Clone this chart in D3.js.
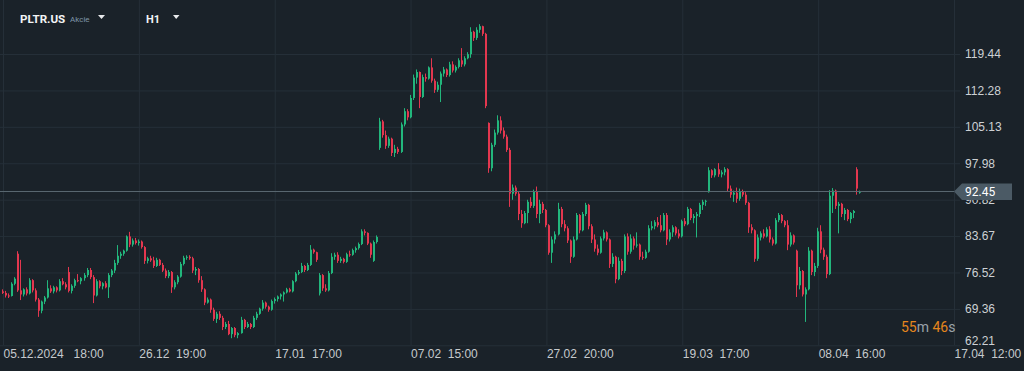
<!DOCTYPE html>
<html>
<head>
<meta charset="utf-8">
<script src="https://cdn.jsdelivr.net/npm/d3@7"></script>
<style>
  html, body { margin: 0; padding: 0; background: #1a2229; overflow: hidden; }
  svg { display: block; font-family: Roboto, "Noto Sans", sans-serif; }
</style>
</head>
<body>
<script>
// PLTR.US H1 candles (index = candle number from 05.12.2024 18:00)
const opens = [
  72.8,72.5,72.0,71.9,74.3,80.2,73.0,72.2,73.2,72.4,
  75.0,73.0,71.2,69.0,70.8,71.6,73.4,72.8,73.6,73.0,
  74.8,74.2,76.6,72.9,73.9,75.0,74.8,75.4,76.0,77.0,
  75.6,72.0,74.8,73.8,74.4,73.6,76.0,76.9,78.4,79.8,
  80.2,80.8,83.6,82.0,82.8,82.3,82.6,81.5,78.8,79.3,
  78.9,77.8,79.0,78.0,76.9,75.8,76.6,73.6,74.6,75.7,
  78.2,79.4,79.6,79.3,76.9,77.2,75.0,73.2,70.6,71.2,
  69.2,67.4,68.4,67.6,65.8,66.4,64.4,65.6,64.2,64.6,
  67.2,65.8,66.4,65.8,67.6,68.4,69.4,70.6,69.8,69.2,
  70.9,71.3,71.8,72.2,72.6,73.2,72.8,74.8,76.3,76.6,
  77.8,77.0,78.0,81.0,80.5,72.4,76.0,73.4,73.0,76.4,
  79.6,80.0,78.8,79.2,78.6,80.1,80.0,80.9,81.3,82.1,
  84.6,84.3,82.2,78.8,82.5,101.0,106.2,103.5,101.4,102.8,
  100.0,100.8,100.2,105.6,108.2,107.0,110.8,114.8,115.9,111.0,
  114.9,114.6,116.8,114.2,112.4,113.4,115.6,116.4,115.3,117.4,
  116.2,116.9,118.2,117.4,118.6,119.4,123.8,122.6,124.2,124.9,
  123.4,105.9,97.0,101.6,104.0,106.4,104.4,103.2,100.6,92.0,
  93.2,92.0,88.0,86.2,88.2,90.4,89.6,92.4,88.0,90.0,
  88.8,85.8,80.4,83.0,84.0,89.0,86.0,85.2,82.8,79.6,
  83.0,87.8,84.8,88.0,89.8,85.6,83.0,81.2,80.4,83.2,
  84.4,83.0,78.2,79.6,75.2,78.8,76.8,83.6,80.6,83.2,
  81.8,82.0,79.6,79.4,80.6,85.2,85.6,86.4,85.8,84.8,
  87.8,83.0,84.4,85.4,84.2,83.6,86.6,86.0,89.0,87.2,
  87.6,88.0,89.8,90.4,92.3,96.6,95.6,96.8,95.8,96.2,
  96.8,93.0,91.8,92.2,91.0,92.4,91.8,90.2,85.4,84.8,
  79.2,83.4,84.2,83.6,85.0,83.0,82.2,86.8,87.8,86.6,
  85.8,82.0,83.8,80.8,74.0,76.8,72.2,73.2,80.8,76.6,
  77.8,84.6,81.0,79.6,76.2,91.6,92.6,89.6,90.0,88.0,
  88.8,87.0,88.2,96.8,92.2
];
const highs = [
  73.2,72.9,72.4,74.6,75.6,80.7,79.0,73.4,73.6,75.4,
  75.2,73.4,71.5,71.0,71.9,75.0,74.0,73.9,73.8,75.2,
  75.4,74.6,77.6,74.2,75.3,76.2,75.6,76.4,77.4,77.4,
  76.0,75.2,75.0,74.6,74.8,76.4,77.2,79.0,81.9,80.6,
  81.0,83.8,84.5,83.2,83.3,83.0,82.8,81.7,79.6,79.8,
  79.6,79.4,79.2,78.4,77.3,77.0,76.8,75.0,76.0,78.6,
  79.8,79.9,79.9,79.6,77.6,77.4,75.8,73.4,71.6,71.4,
  69.6,68.8,68.9,68.0,66.8,67.0,65.8,65.8,64.8,67.8,
  67.4,66.8,66.6,68.0,68.8,69.6,71.1,70.8,70.0,71.2,
  71.6,72.0,72.4,72.8,73.5,73.5,75.0,76.6,77.0,78.4,
  78.0,78.4,81.9,81.2,80.6,76.4,76.2,74.2,76.8,80.3,
  80.4,80.5,79.6,79.4,80.4,80.8,81.2,81.6,82.4,85.0,
  85.0,84.4,82.4,82.8,83.8,106.9,106.5,104.4,103.2,103.0,
  101.6,101.2,106.0,108.8,108.6,111.4,115.4,116.4,116.0,115.4,
  115.6,117.0,118.6,114.6,114.0,116.0,116.9,116.6,117.9,118.0,
  117.2,118.6,120.6,119.0,119.8,124.7,124.0,124.7,125.3,125.0,
  123.6,106.0,102.0,104.6,107.4,107.2,105.0,103.6,101.0,93.8,
  93.6,92.4,88.8,88.6,90.8,91.3,92.8,93.4,90.8,90.4,
  89.0,86.0,83.6,84.6,90.2,89.4,86.8,85.6,83.0,83.6,
  88.2,88.0,88.4,90.2,90.0,86.0,84.0,82.0,83.6,84.9,
  84.6,83.2,80.3,79.8,79.5,79.2,84.0,84.2,84.0,83.6,
  84.4,82.2,80.6,81.0,85.8,86.6,86.8,87.4,87.8,88.2,
  88.2,85.0,85.8,85.6,85.0,86.9,87.2,89.4,89.2,88.0,
  88.4,90.2,90.8,90.8,97.2,96.8,97.0,98.0,96.6,97.2,
  97.0,93.6,92.6,93.2,93.0,92.8,92.3,90.4,86.0,85.0,
  84.0,84.6,85.0,85.4,85.6,83.4,87.2,88.2,88.0,86.8,
  86.8,84.4,84.0,81.0,77.6,77.0,73.6,81.5,81.0,78.4,
  85.3,85.8,81.4,80.0,92.7,93.1,92.8,90.4,90.2,89.2,
  89.0,88.4,88.8,97.2,92.6
];
const lows = [
  72.3,71.6,71.5,71.8,74.0,72.7,71.1,71.8,72.0,72.2,
  72.6,70.8,67.8,68.5,70.3,71.4,72.5,72.4,72.6,72.8,
  74.0,73.2,72.6,72.4,73.5,74.6,74.2,74.9,75.6,75.2,
  70.5,71.8,73.4,73.2,73.4,71.5,75.6,76.4,78.0,79.2,
  79.8,80.6,81.5,81.6,82.0,81.8,81.2,78.2,78.3,78.6,
  77.4,77.6,77.8,76.6,75.4,75.4,72.5,73.2,74.2,75.5,
  77.9,79.0,79.0,76.4,76.0,74.5,72.7,70.1,70.4,68.6,
  67.0,66.6,67.2,65.2,65.4,64.2,63.6,63.8,63.6,64.5,
  65.4,65.6,65.4,65.6,67.2,68.2,69.0,69.4,68.8,69.0,
  70.4,70.8,71.2,70.8,72.4,72.6,72.6,74.6,76.0,76.4,
  76.6,76.8,77.8,80.2,78.6,72.0,72.9,72.7,72.8,76.2,
  79.0,78.4,78.4,78.3,78.4,79.6,79.8,80.4,81.0,81.9,
  83.8,81.9,79.4,78.6,82.2,100.6,103.0,100.8,101.0,99.4,
  99.2,99.8,100.0,105.2,106.4,106.8,110.4,113.6,108.8,110.8,
  114.0,114.4,113.8,111.8,112.0,110.0,115.0,114.9,115.0,115.8,
  115.8,116.6,116.9,117.0,118.4,118.7,122.0,122.2,123.6,123.0,
  108.8,96.1,96.4,101.2,103.6,103.8,102.8,100.2,89.4,90.8,
  91.6,86.8,85.3,86.0,86.2,89.2,89.2,87.2,86.2,88.2,
  85.4,80.0,78.4,82.2,83.8,85.4,84.6,82.3,78.4,79.4,
  82.8,84.2,84.6,87.6,85.0,82.3,80.6,79.9,80.2,82.8,
  82.6,77.4,77.6,74.4,75.0,76.0,76.4,80.0,80.2,81.0,
  81.4,79.0,79.0,79.2,80.4,84.8,85.0,85.4,84.4,84.6,
  81.9,82.6,83.5,83.8,83.2,83.4,85.6,85.8,86.8,86.2,
  83.4,87.4,88.8,89.6,92.2,95.1,95.2,95.3,95.2,95.6,
  92.4,91.2,90.4,90.2,90.6,91.4,89.8,84.3,84.2,78.6,
  78.8,82.8,83.2,83.4,82.4,81.8,82.0,86.4,86.2,85.4,
  80.9,81.6,82.0,71.7,73.2,71.8,66.8,73.0,76.0,75.8,
  77.4,80.3,79.0,75.4,76.0,88.2,89.0,84.2,87.4,86.8,
  86.6,86.2,87.2,91.8,92.0
];
const closes = [
  72.5,72.0,71.9,74.3,75.3,73.0,72.2,73.2,72.4,75.0,
  73.0,71.2,69.0,70.8,71.6,73.4,72.8,73.6,73.0,74.8,
  74.2,73.6,72.9,73.9,75.0,74.8,75.4,76.0,77.0,75.6,
  72.0,74.8,73.8,74.4,73.6,76.0,76.9,78.4,79.8,80.2,
  80.8,83.6,82.0,82.8,82.3,82.6,81.5,78.8,79.3,78.9,
  77.8,79.0,78.0,76.9,75.8,76.6,73.6,74.6,75.7,78.2,
  79.4,79.6,79.3,76.9,77.2,75.0,73.2,70.6,71.2,69.2,
  67.4,68.4,67.6,65.8,66.4,64.4,65.6,64.2,64.6,67.2,
  65.8,66.4,65.8,67.6,68.4,69.4,70.6,69.8,69.2,70.9,
  71.3,71.8,72.2,72.6,73.2,72.8,74.8,76.3,76.6,77.8,
  77.0,78.0,81.0,80.5,79.0,76.0,73.4,73.0,76.4,79.6,
  80.0,78.8,79.2,78.6,80.1,80.0,80.9,81.3,82.1,84.6,
  84.3,82.2,80.0,82.5,83.5,106.2,103.5,101.4,102.8,100.0,
  100.8,100.2,105.6,108.2,107.0,110.8,114.8,115.9,111.0,114.9,
  114.6,116.8,114.2,112.4,113.4,115.6,116.4,115.3,117.4,116.2,
  116.9,118.2,117.4,118.6,119.4,123.8,122.6,124.2,124.9,123.4,
  109.2,97.0,101.6,104.0,106.4,104.4,103.2,100.6,92.0,93.2,
  92.0,88.0,86.2,88.2,90.4,89.6,92.4,88.0,90.0,88.8,
  85.8,80.4,83.0,84.0,89.0,86.0,85.2,82.8,79.6,83.0,
  87.8,84.8,88.0,89.8,85.6,83.0,81.2,80.4,83.2,84.4,
  83.0,78.2,79.6,75.2,78.8,76.8,83.6,80.6,83.2,81.8,
  82.0,79.6,79.4,80.6,85.2,85.6,86.4,85.8,84.8,87.8,
  83.0,84.4,85.4,84.2,83.6,86.6,86.0,89.0,87.2,87.6,
  88.0,89.8,90.4,90.6,96.6,95.6,96.8,95.8,96.2,96.8,
  93.0,91.8,92.2,91.0,92.4,91.8,90.2,85.4,84.8,79.2,
  83.4,84.2,83.6,85.0,83.0,82.2,86.8,87.8,86.6,85.8,
  82.0,83.8,82.4,74.0,76.8,72.2,73.2,80.8,76.6,77.8,
  84.6,81.0,79.6,76.2,91.6,92.6,89.6,90.0,88.0,88.8,
  87.0,88.2,88.6,93.0,92.45
];

const priceTicks = [62.21, 69.36, 76.52, 83.67, 90.82, 97.98, 105.13, 112.28, 119.44];
const timeTicks = [0, 45, 90, 135, 180, 225, 270, 315];
const timeLabels = ["05.12.2024   18:00", "26.12  19:00", "17.01  17:00", "07.02  15:00",
                    "27.02  20:00", "19.03  17:00", "08.04  16:00", "17.04  12:00"];
const lastPrice = 92.45;

const width = 1024, height = 371;
const plotBottom = 345.3, plotRight = 960;
const up = "#22b67c", down = "#e3374f";

const svg = d3.select("body").append("svg").attr("width", width).attr("height", height);
svg.append("rect").attr("width", width).attr("height", height).attr("fill", "#1a2229");

const x = d3.scaleLinear().domain([0, 315]).range([3, 954]);
const y = d3.scaleLinear().domain([62.21, 119.44]).range([plotBottom, 54]);

// grid
svg.append("g")
  .attr("class", "grid-y")
  .call(d3.axisLeft(y).tickValues(priceTicks).tickSize(-plotRight).tickFormat(""))
  .call(g => g.select(".domain").remove())
  .call(g => g.selectAll("line").attr("stroke", "#252f38"));

svg.append("g")
  .attr("class", "grid-x")
  .attr("transform", "translate(0," + plotBottom + ")")
  .call(d3.axisBottom(x).tickValues(timeTicks).tickSize(-plotBottom).tickFormat(""))
  .call(g => g.select(".domain").remove())
  .call(g => g.selectAll("line").attr("stroke", "#252f38"));

// candles
const candles = d3.range(closes.length).map(i => ({
  i: i, o: opens[i], h: highs[i], l: lows[i], c: closes[i]
}));

const cg = svg.append("g").attr("class", "candles");
cg.selectAll("line")
  .data(candles)
  .enter()
  .append("line")
  .attr("x1", d => Math.round(x(d.i)) - 0.5)
  .attr("x2", d => Math.round(x(d.i)) - 0.5)
  .attr("y1", d => y(d.h))
  .attr("y2", d => y(d.l))
  .attr("stroke", d => (d.c >= d.o ? up : down))
  .attr("stroke-width", 1);

cg.selectAll("rect")
  .data(candles)
  .enter()
  .append("rect")
  .attr("x", d => Math.round(x(d.i)) - 1)
  .attr("width", 2)
  .attr("y", d => y(Math.max(d.o, d.c)))
  .attr("height", d => Math.max(1, Math.abs(y(d.o) - y(d.c))))
  .attr("fill", d => (d.c >= d.o ? up : down));

// price axis
const yAxis = svg.append("g")
  .attr("transform", "translate(965,0)")
  .call(d3.axisRight(y).tickValues(priceTicks).tickSize(0).tickPadding(0).tickFormat(d3.format(".2f")));
yAxis.select(".domain").remove();
yAxis.selectAll("text")
  .attr("fill", "#cdd1d4")
  .attr("font-size", 12)
  .attr("dy", d => (d === priceTicks[0] ? "-0.05em" : "0.32em"));

// time axis
const xAxis = svg.append("g")
  .attr("transform", "translate(0," + plotBottom + ")")
  .call(d3.axisBottom(x).tickValues(timeTicks).tickSize(0).tickPadding(4.5).tickFormat((d, i) => timeLabels[i]));
xAxis.select(".domain").remove();
xAxis.selectAll("text")
  .attr("fill", "#c6cacd")
  .attr("font-size", 12)
  .attr("text-anchor", "start")
  .style("white-space", "pre");

// last price line + label (the label box sits over part of the 90.82 tick, as in the original)
const py = Math.round(y(lastPrice)) + 0.5;
svg.append("line")
  .attr("x1", 0).attr("x2", 954)
  .attr("y1", py).attr("y2", py)
  .attr("stroke", "#58666f").attr("stroke-width", 1);

svg.append("path")
  .attr("d", `M954,${py} L962,${py - 8} L1012,${py - 8} L1012,${py + 8.5} L962,${py + 8.5} Z`)
  .attr("fill", "#4b5a65");
svg.append("text")
  .attr("x", 965).attr("y", py + 4.5)
  .attr("fill", "#ffffff").attr("font-size", 12)
  .text(d3.format(".2f")(lastPrice));

// countdown
const cd = svg.append("text").attr("x", 901).attr("y", 331.5).attr("font-size", 14);
cd.append("tspan").attr("fill", "#e5861d").text("55");
cd.append("tspan").attr("fill", "#9aa3aa").text("m ");
cd.append("tspan").attr("fill", "#e5861d").text("46");
cd.append("tspan").attr("fill", "#9aa3aa").text("s");

// header
svg.append("text")
  .attr("x", 20).attr("y", 22.5)
  .attr("fill", "#f2f4f5").attr("font-size", 11.6).attr("font-weight", "bold")
  .text("PLTR.US");
svg.append("text")
  .attr("x", 70).attr("y", 22)
  .attr("fill", "#7f96a8").attr("font-size", 8)
  .text("Akcie");
svg.append("path").attr("d", "M98,15 L105,15 L101.5,19 Z").attr("fill", "#e8eaec");
svg.append("text")
  .attr("x", 146).attr("y", 23)
  .attr("fill", "#f2f4f5").attr("font-size", 11).attr("font-weight", "bold")
  .text("H1");
svg.append("path").attr("d", "M173,15 L179.5,15 L176.2,19 Z").attr("fill", "#e8eaec");
</script>
</body>
</html>
